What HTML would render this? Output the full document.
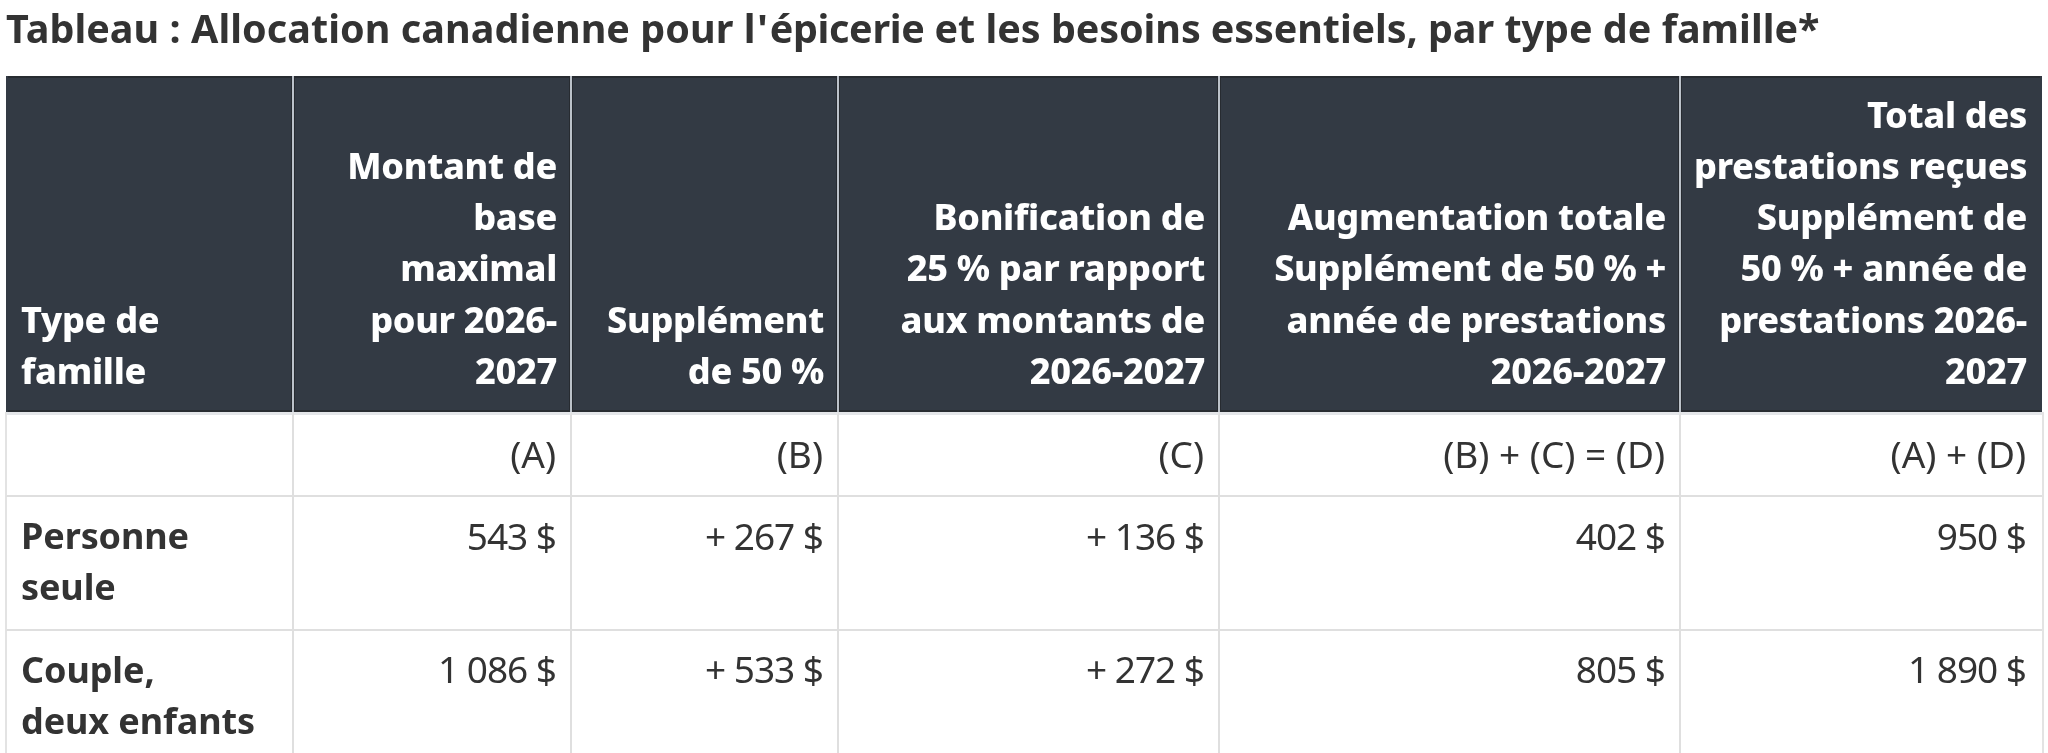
<!DOCTYPE html>
<html lang="fr">
<head>
<meta charset="utf-8">
<title>Tableau : Allocation canadienne pour l'épicerie et les besoins essentiels</title>
<style>
html,body{margin:0;padding:0;background:#fff;}
body{width:2048px;height:753px;overflow:hidden;position:relative;filter:blur(0.5px);
  font-family:"Noto Sans","Liberation Sans",sans-serif;color:#333;}
h2{position:absolute;left:6px;top:1.6px;margin:0;font-size:39.5px;line-height:53px;font-weight:700;letter-spacing:0;color:#333;white-space:nowrap;}
table{position:absolute;left:6px;top:76px;border-collapse:separate;border-spacing:0;table-layout:fixed;width:2036px;}
th,td{box-sizing:border-box;padding:0 14px 0 13px;text-align:right;font-size:37px;line-height:51px;white-space:nowrap;border:0;}
thead th{background:#333a44;color:#fff;vertical-align:bottom;font-weight:800;letter-spacing:-0.3px;font-size:36px;
  border-right:2px solid #bcc2ca;
  box-shadow:inset 0 2px 0 #282c31,inset 0 -2px 0 #282c31,inset 1px 0 0 #272b31,inset -1px 0 0 #272b31;
  padding-top:10px;padding-bottom:16px;padding-right:13px;height:336px;line-height:51.2px;}
thead th:first-child{border-left:2px solid #333a44;box-shadow:inset 0 2px 0 #282c31,inset 0 -2px 0 #282c31,inset -1px 0 0 #272b31;}
thead th:last-child{border-right:2px solid #333a44;box-shadow:inset 0 2px 0 #282c31,inset 0 -2px 0 #282c31,inset 1px 0 0 #272b31;}
td{vertical-align:top;border-right:2px solid #dfdfdf;border-bottom:2px solid #dfdfdf;font-weight:400;}
td:first-child{border-left:1px solid #e3e3e3;box-shadow:-1px 0 0 #e3e3e3;padding-left:14px !important;}
td:last-child{border-right:0;box-shadow:2px 0 0 #e3e3e3;padding-right:16px;}
tr.r1 td{border-top:3px solid #e4e6e9;padding-top:13px;padding-bottom:16px;}
tr.r2 td{padding-top:13px;padding-bottom:17px;}
tr.r2 td.l,tr.r3 td.l{padding-top:13px;padding-bottom:17px;}
.n{letter-spacing:-1px;}
tr.r3 td{padding-top:12px;padding-bottom:18px;}
td b{font-weight:700;letter-spacing:-0.1px;}
td.l{font-size:36px;}
.l{text-align:left !important;}
</style>
</head>
<body>
<h2><span style="letter-spacing:0.05px">Tableau : Allocation canadienne pour l</span><span style="margin:0 2px 0 1.5px">'</span><span style="letter-spacing:-0.32px">épicerie </span><span>et les </span><span style="letter-spacing:-0.09px">besoins essentiels, </span><span style="letter-spacing:-0.01px">par type de famille*</span></h2>
<table>
<colgroup>
<col style="width:288px"><col style="width:278px"><col style="width:267px"><col style="width:381px"><col style="width:461px"><col style="width:361px">
</colgroup>
<thead>
<tr>
<th class="l">Type de<br>famille</th>
<th>Montant de<br>base<br>maximal<br>pour 2026-<br>2027</th>
<th>Supplément<br>de 50 %</th>
<th>Bonification de<br>25 % par rapport<br>aux montants de<br>2026-2027</th>
<th>Augmentation totale<br>Supplément de 50 % +<br>année de prestations<br>2026-2027</th>
<th>Total des<br>prestations reçues<br>Supplément de<br>50 % + année de<br>prestations 2026-<br>2027</th>
</tr>
</thead>
<tbody>
<tr class="r1"><td class="l"></td><td>(A)</td><td>(B)</td><td>(C)</td><td>(B) + (C) = (D)</td><td>(A) + (D)</td></tr>
<tr class="r2"><td class="l"><b>Personne<br>seule</b></td><td class="n">543 $</td><td class="n">+ 267 $</td><td class="n">+ 136 $</td><td class="n">402 $</td><td class="n">950 $</td></tr>
<tr class="r3"><td class="l"><b>Couple,<br>deux enfants</b></td><td class="n">1 086 $</td><td class="n">+ 533 $</td><td class="n">+ 272 $</td><td class="n">805 $</td><td class="n">1 890 $</td></tr>
</tbody>
</table>
</body>
</html>
